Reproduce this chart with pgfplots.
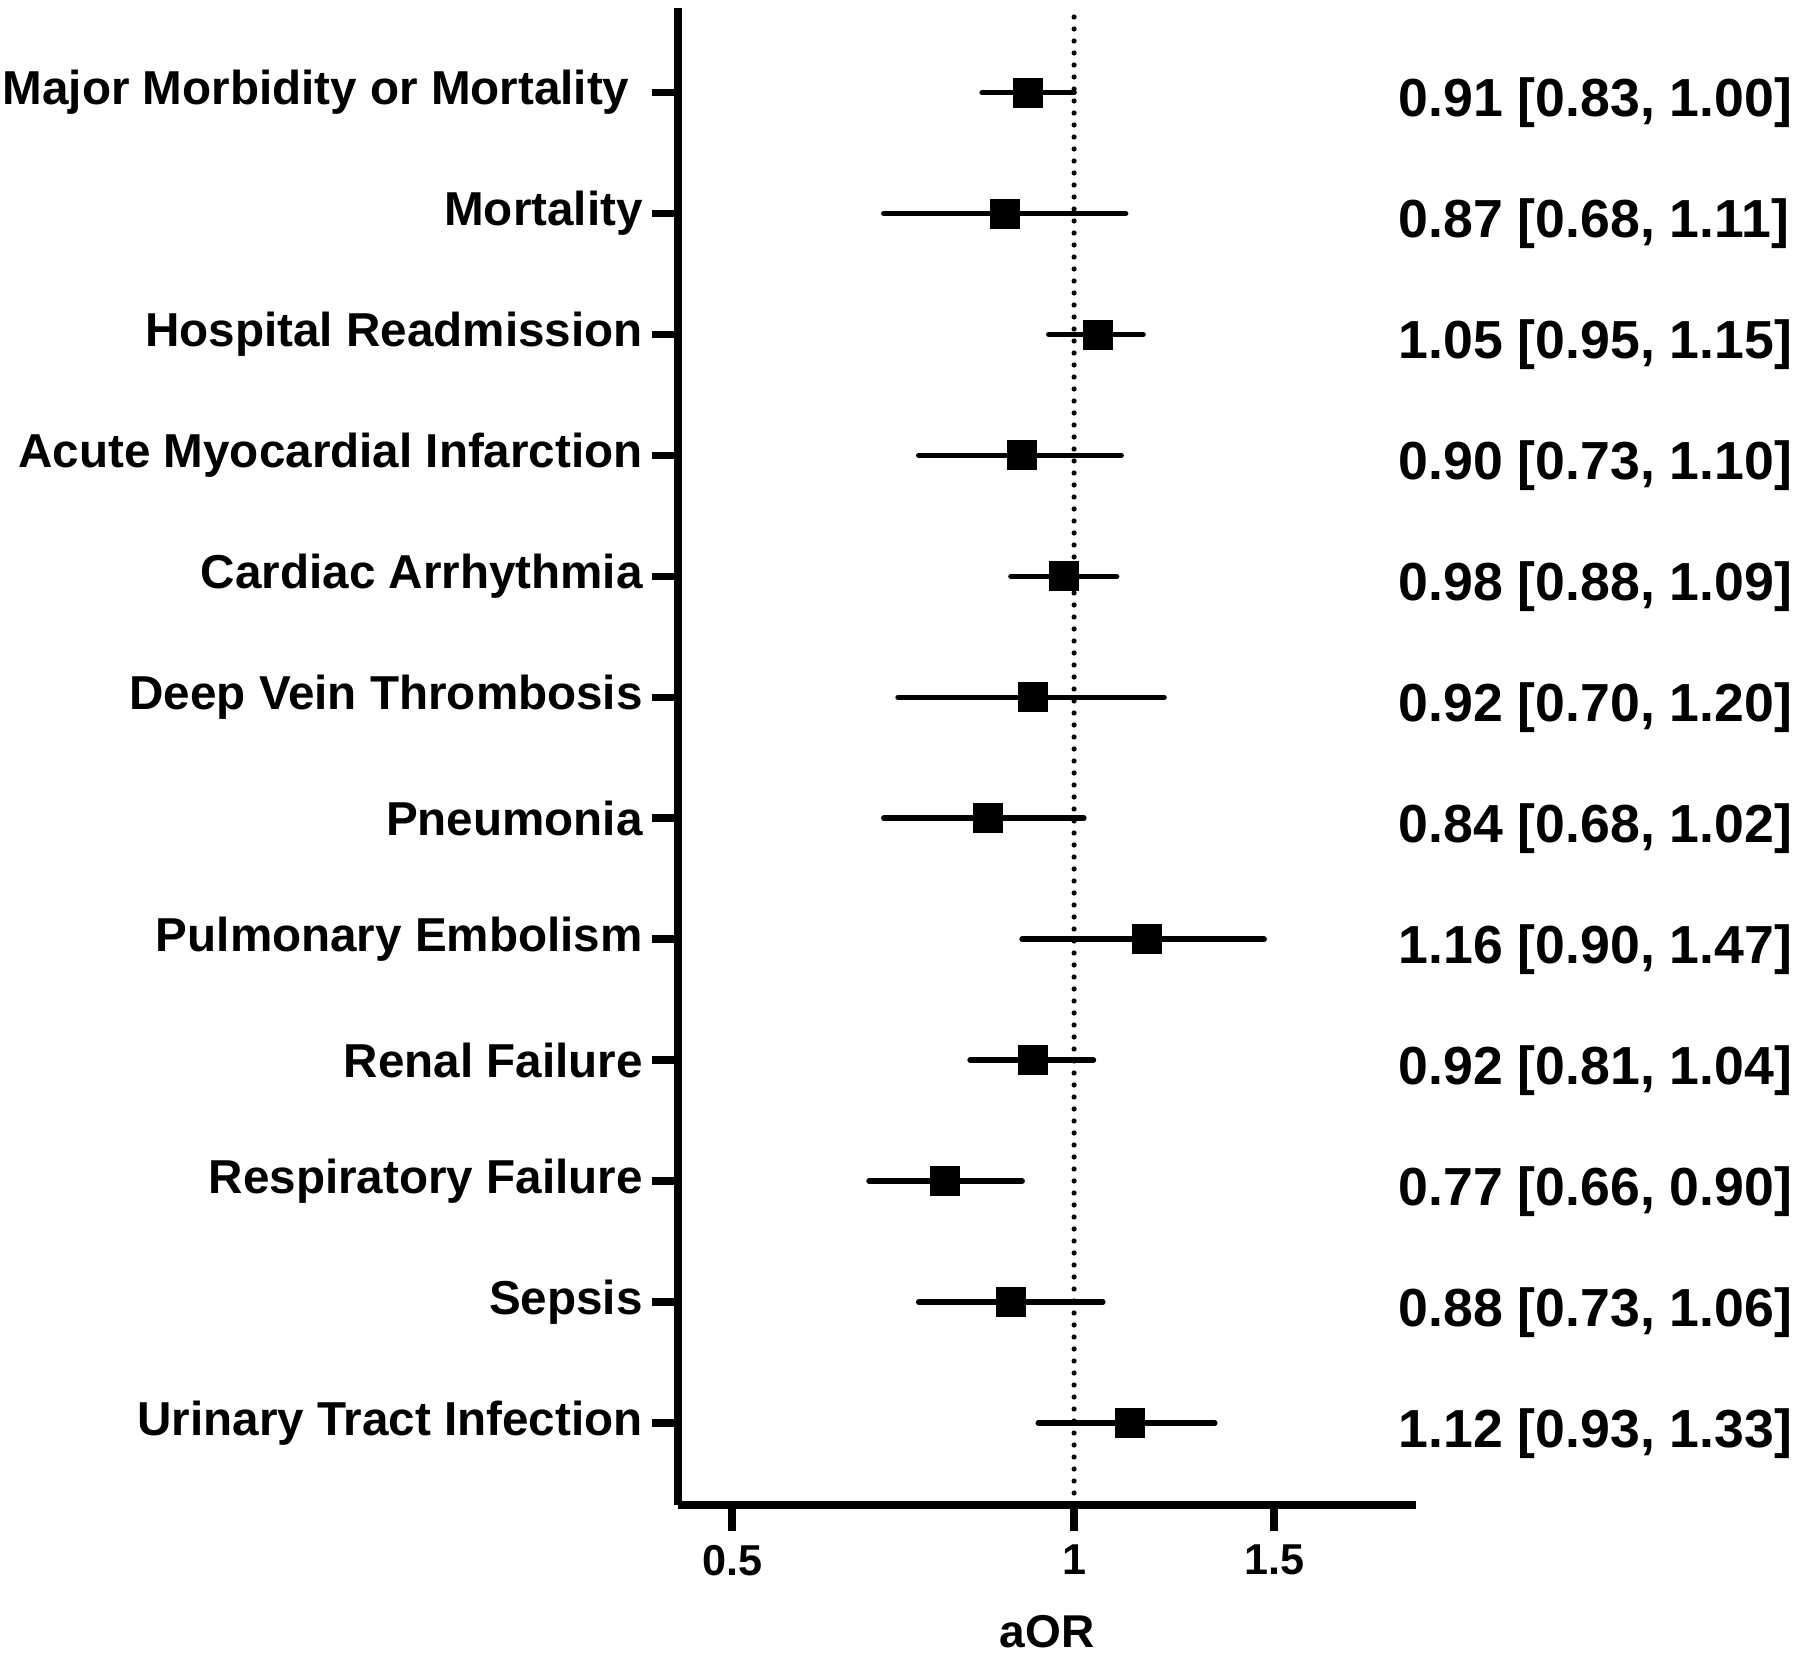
\documentclass[border=0pt]{standalone}
\usepackage{fontspec}
\setmainfont{Liberation Sans}
\usepackage{pgfplots}
\pgfplotsset{compat=1.18}
\usepackage{pgfplotstable}

% point estimates (row 12 = top)
\pgfplotstableread{
y est
12 0.91
11 0.87
10 1.05
9 0.90
8 0.98
7 0.92
6 0.84
5 1.16
4 0.92
3 0.77
2 0.88
1 1.12
}\estimates

% confidence intervals, one segment per row
\pgfplotstableread{
x y
0.83 12
1.00 12
nan nan
0.68 11
1.11 11
nan nan
0.95 10
1.15 10
nan nan
0.73 9
1.10 9
nan nan
0.88 8
1.09 8
nan nan
0.70 7
1.20 7
nan nan
0.68 6
1.02 6
nan nan
0.90 5
1.47 5
nan nan
0.81 4
1.04 4
nan nan
0.66 3
0.90 3
nan nan
0.73 2
1.06 2
nan nan
0.93 1
1.33 1
}\intervals

\begin{document}
\begin{tikzpicture}
\begin{axis}[
  at={(0,0)}, anchor=south west,
  scale only axis, width=184.5pt, height=374.25pt,
  xmode=log, xmin=0.448, xmax=2.0,
  ymin=0.322, ymax=12.70,
  axis x line*=bottom, axis y line*=left,
  axis line style={line width=1.9pt, black},
  xtick={0.5,1,1.5}, xticklabels={0.5,1,1.5},
  minor xtick={},
  ytick={1,2,3,4,5,6,7,8,9,10,11,12},
  yticklabels={Urinary Tract Infection, Sepsis, Respiratory Failure, Renal Failure, Pulmonary Embolism, Pneumonia, Deep Vein Thrombosis, Cardiac Arrhythmia, Acute Myocardial Infarction, Hospital Readmission, Mortality, {Major Morbidity or Mortality\kern0.278em}},
  tick align=outside, major tick length=6.5pt,
  tick style={line width=1.9pt, black},
  yticklabel style={font=\bfseries\fontsize{11.9}{14}\selectfont, xshift=1.2pt},
  xticklabel style={font=\bfseries\fontsize{10.8}{13}\selectfont, yshift=0pt},
  /pgf/number format/assume math mode=true,
  xlabel={aOR},
  xlabel style={font=\bfseries\fontsize{11.5}{14}\selectfont, yshift=-3pt},
  clip=false,
]
\addplot[black, line width=1.3pt, line cap=round, dash pattern=on 0pt off 3pt]
  coordinates {(1,0.322) (1,12.70)};
\addplot[black, line width=1.4pt, line cap=round, unbounded coords=jump, mark=none]
  table[x=x, y=y] {\intervals};
\addplot[only marks, mark=square*, mark size=3.6pt,
  mark options={fill=black, draw=black, line width=0.3pt}]
  table[x=est, y=y] {\estimates};

\begin{scope}[every node/.style={anchor=base west, inner sep=0pt, yshift=-6pt,
    font=\bfseries\fontsize{13.4}{16}\selectfont}]
\node at (axis cs:1.928,12) {0.91 [0.83, 1.00]};
\node at (axis cs:1.928,11) {0.87 [0.68, 1.11]};
\node at (axis cs:1.928,10) {1.05 [0.95, 1.15]};
\node at (axis cs:1.928,9) {0.90 [0.73, 1.10]};
\node at (axis cs:1.928,8) {0.98 [0.88, 1.09]};
\node at (axis cs:1.928,7) {0.92 [0.70, 1.20]};
\node at (axis cs:1.928,6) {0.84 [0.68, 1.02]};
\node at (axis cs:1.928,5) {1.16 [0.90, 1.47]};
\node at (axis cs:1.928,4) {0.92 [0.81, 1.04]};
\node at (axis cs:1.928,3) {0.77 [0.66, 0.90]};
\node at (axis cs:1.928,2) {0.88 [0.73, 1.06]};
\node at (axis cs:1.928,1) {1.12 [0.93, 1.33]};
\end{scope}
\end{axis}
\pgfresetboundingbox
\path[use as bounding box] (-169.5pt,-38.5pt) rectangle (280.5pt,376.25pt);
\end{tikzpicture}
\end{document}
